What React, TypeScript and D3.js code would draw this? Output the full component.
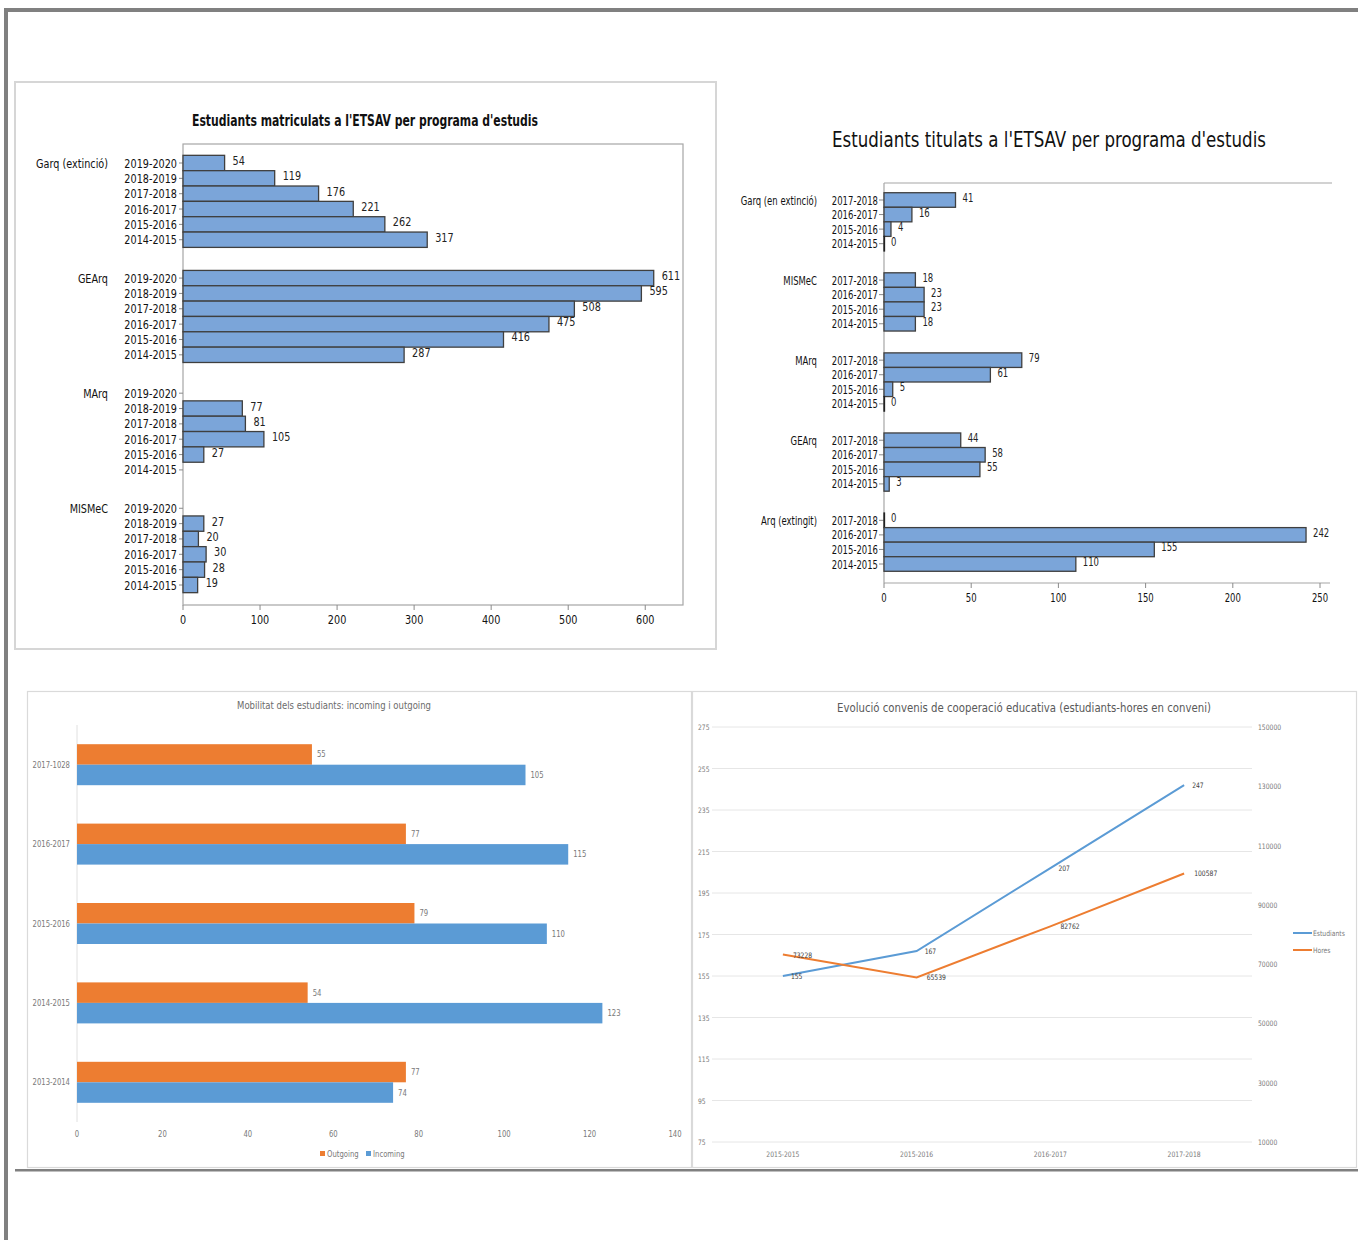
import React from "react";
import * as d3 from "d3";

// ---------- Chart 1 data: Estudiants matriculats ----------
const years1 = ["2019-2020", "2018-2019", "2017-2018", "2016-2017", "2015-2016", "2014-2015"];
const programs1 = ["Garq (extinció)", "GEArq", "MArq", "MISMeC"];
const garq1: (number | null)[] = [54, 119, 176, 221, 262, 317];
const gearq1: (number | null)[] = [611, 595, 508, 475, 416, 287];
const marq1: (number | null)[] = [null, 77, 81, 105, 27, null];
const mismec1: (number | null)[] = [null, 27, 20, 30, 28, 19];
const ticks1 = [0, 100, 200, 300, 400, 500, 600];

// ---------- Chart 2 data: Estudiants titulats ----------
const years2 = ["2017-2018", "2016-2017", "2015-2016", "2014-2015"];
const programs2 = ["Garq (en extinció)", "MISMeC", "MArq", "GEArq", "Arq (extingit)"];
const garq2 = [41, 16, 4, 0];
const mismec2 = [18, 23, 23, 18];
const marq2 = [79, 61, 5, 0];
const gearq2 = [44, 58, 55, 3];
const arq2 = [0, 242, 155, 110];
const ticks2 = [0, 50, 100, 150, 200, 250];

// ---------- Chart 3 data: Mobilitat ----------
const cats3 = ["2017-1028", "2016-2017", "2015-2016", "2014-2015", "2013-2014"];
const outgoing3 = [55, 77, 79, 54, 77];
const incoming3 = [105, 115, 110, 123, 74];
const ticks3 = [0, 20, 40, 60, 80, 100, 120, 140];

// ---------- Chart 4 data: Convenis ----------
const cats4 = ["2015-2015", "2015-2016", "2016-2017", "2017-2018"];
const estudiants4 = [155, 167, 207, 247];
const hores4 = [73228, 65539, 82762, 100587];
const ticksLeft4 = [75, 95, 115, 135, 155, 175, 195, 215, 235, 255, 275];
const ticksRight4 = [10000, 30000, 50000, 70000, 90000, 110000, 130000, 150000];

const NARROW = "'DejaVu Sans Condensed', 'Liberation Sans Narrow', 'DejaVu Sans', sans-serif";
const BAR_FILL = "#7ba5d9";
const BAR_STROKE = "#3f3f3f";
const ORANGE = "#ed7d31";
const BLUE = "#5b9bd5";

type NTProps = {
  x: number;
  y: number;
  size: number;
  sx?: number;
  anchor?: "start" | "middle" | "end";
  fill?: string;
  weight?: string | number;
  children: React.ReactNode;
};

function NText({ x, y, size, sx = 0.86, anchor = "start", fill = "#111", weight = "normal", children }: NTProps) {
  return (
    <text transform={`translate(${x},${y}) scale(${sx},1)`} textAnchor={anchor} fontSize={size} fill={fill} fontWeight={weight}>
      {children}
    </text>
  );
}

function Chart1() {
  const x = d3.scaleLinear().domain([0, 649]).range([183, 683]);
  const y = d3.scaleLinear().domain([0, 27.5]).range([163, 585]);
  const step = y(1) - y(0);
  const series = [garq1, gearq1, marq1, mismec1];
  const fs = 12.5;
  return (
    <g fontFamily={NARROW}>
      <rect x={15} y={82} width={701} height={567} fill="#fff" stroke="#d6d6d6" strokeWidth={2} />
      <text x={365} y={126} textAnchor="middle" fontSize={15} fontWeight="bold" fill="#111" textLength={346} lengthAdjust="spacingAndGlyphs">
        Estudiants matriculats a l'ETSAV per programa d'estudis
      </text>
      <rect x={183} y={144} width={500} height={461} fill="none" stroke="#a6a6a6" strokeWidth={1.2} />
      {series.map((vals, g) =>
        vals.map((v, r) => {
          const cy = y(g * 7.5 + r);
          return (
            <g key={`${g}-${r}`}>
              <line x1={179} x2={183} y1={cy} y2={cy} stroke="#8a8a8a" />
              <NText x={177} y={cy + 4.5} size={fs} anchor="end">{years1[r]}</NText>
              {v !== null && (
                <>
                  <rect x={x(0)} y={cy - step / 2} width={x(v) - x(0)} height={step} fill={BAR_FILL} stroke={BAR_STROKE} strokeWidth={1.3} />
                  <NText x={x(v) + 8} y={cy + 2} size={fs} fill="#222">{v}</NText>
                </>
              )}
            </g>
          );
        })
      )}
      {programs1.map((p, g) => (
        <NText key={p} x={108} y={y(g * 7.5) + 4.5} size={fs} anchor="end">{p}</NText>
      ))}
      {ticks1.map((t) => (
        <g key={t}>
          <line x1={x(t)} x2={x(t)} y1={605} y2={610} stroke="#8a8a8a" />
          <NText x={x(t)} y={624} size={fs} anchor="middle">{t}</NText>
        </g>
      ))}
    </g>
  );
}

function Chart2() {
  const x = d3.scaleLinear().domain([0, 250]).range([884, 1320]);
  const y = d3.scaleLinear().domain([0, 25]).range([200, 564]);
  const step = y(1) - y(0);
  const series = [garq2, mismec2, marq2, gearq2, arq2];
  const fs = 11.5;
  const sx = 0.82;
  return (
    <g fontFamily={NARROW}>
      <text x={1049} y={147} textAnchor="middle" fontSize={22} fill="#111" textLength={434} lengthAdjust="spacingAndGlyphs">
        Estudiants titulats a l'ETSAV per programa d'estudis
      </text>
      <line x1={884} x2={1332} y1={183} y2={183} stroke="#a6a6a6" strokeWidth={1.2} />
      <line x1={884} x2={884} y1={183} y2={583} stroke="#a6a6a6" strokeWidth={1.2} />
      <line x1={884} x2={1330} y1={583} y2={583} stroke="#a6a6a6" strokeWidth={1.2} />
      {series.map((vals, g) =>
        vals.map((v, r) => {
          const cy = y(g * 5.5 + r);
          return (
            <g key={`${g}-${r}`}>
              <line x1={879} x2={884} y1={cy} y2={cy} stroke="#8a8a8a" />
              <NText x={878} y={cy + 4.5} size={fs} sx={sx} anchor="end">{years2[r]}</NText>
              <rect x={x(0)} y={cy - step / 2} width={Math.max(x(v) - x(0), 0.5)} height={step} fill={BAR_FILL} stroke={v === 0 ? "#222" : BAR_STROKE} strokeWidth={1.3} />
              <NText x={x(v) + 7} y={cy + 2} size={fs} sx={sx} fill="#222">{v}</NText>
            </g>
          );
        })
      )}
      {programs2.map((p, g) => (
        <NText key={p} x={817} y={y(g * 5.5) + 4.5} size={fs} sx={sx} anchor="end">{p}</NText>
      ))}
      {ticks2.map((t) => (
        <g key={t}>
          <line x1={x(t)} x2={x(t)} y1={583} y2={588} stroke="#8a8a8a" />
          <NText x={x(t)} y={602} size={fs} sx={sx} anchor="middle">{t}</NText>
        </g>
      ))}
    </g>
  );
}

function Chart3() {
  const x = d3.scaleLinear().domain([0, 140]).range([77, 675]);
  const y = d3.scaleBand<string>().domain(cats3).range([725, 1122]);
  const bh = 20.5;
  return (
    <g fontFamily={NARROW}>
      <rect x={27.5} y={691.5} width={664} height={476} fill="#fff" stroke="#dadada" strokeWidth={1.2} />
      <NText x={334} y={709} size={10.5} sx={0.9} anchor="middle" fill="#6b6b6b">Mobilitat dels estudiants: incoming i outgoing</NText>
      <line x1={x(0)} x2={x(0)} y1={725} y2={1122} stroke="#e0e0e0" />
      {cats3.map((c, i) => {
        const cy = (y(c) as number) + y.bandwidth() / 2;
        return (
          <g key={c}>
            <NText x={70} y={cy + 3} size={8.5} sx={0.9} anchor="end" fill="#7a7a7a">{c}</NText>
            <rect x={x(0)} y={cy - bh} width={x(outgoing3[i]) - x(0)} height={bh} fill={ORANGE} />
            <rect x={x(0)} y={cy} width={x(incoming3[i]) - x(0)} height={bh} fill={BLUE} />
            <NText x={x(outgoing3[i]) + 5} y={cy - bh / 2 + 3} size={8.5} sx={0.9} fill="#7a7a7a">{outgoing3[i]}</NText>
            <NText x={x(incoming3[i]) + 5} y={cy + bh / 2 + 3} size={8.5} sx={0.9} fill="#7a7a7a">{incoming3[i]}</NText>
          </g>
        );
      })}
      {ticks3.map((t) => (
        <NText key={t} x={x(t)} y={1137} size={8.5} sx={0.9} anchor="middle" fill="#7a7a7a">{t}</NText>
      ))}
      <rect x={320} y={1151} width={5} height={5} fill={ORANGE} />
      <NText x={327} y={1157} size={8.5} sx={0.9} fill="#7a7a7a">Outgoing</NText>
      <rect x={366} y={1151} width={5} height={5} fill={BLUE} />
      <NText x={373} y={1157} size={8.5} sx={0.9} fill="#7a7a7a">Incoming</NText>
    </g>
  );
}

function Chart4() {
  const x = d3.scalePoint<string>().domain(cats4).range([716, 1251]).padding(0.5);
  const yL = d3.scaleLinear().domain([75, 275]).range([1142, 727]);
  const yR = d3.scaleLinear().domain([10000, 150000]).range([1142, 727]);
  const lineL = d3.line<number>().x((_, i) => x(cats4[i]) as number).y((d) => yL(d));
  const lineR = d3.line<number>().x((_, i) => x(cats4[i]) as number).y((d) => yR(d));
  return (
    <g fontFamily={NARROW}>
      <rect x={692.5} y={691.5} width={664} height={476} fill="#fff" stroke="#dadada" strokeWidth={1.2} />
      <text x={1024} y={712} textAnchor="middle" fontSize={12.5} fill="#595959" textLength={374} lengthAdjust="spacingAndGlyphs">
        Evolució convenis de cooperació educativa (estudiants-hores en conveni)
      </text>
      {ticksLeft4.map((t) => (
        <g key={t}>
          <line x1={712} x2={1252} y1={yL(t)} y2={yL(t)} stroke="#e6e6e6" />
          <NText x={698} y={yL(t) + 3} size={7.5} sx={0.9} fill="#7a7a7a">{t}</NText>
        </g>
      ))}
      {ticksRight4.map((t) => (
        <NText key={t} x={1258} y={yR(t) + 3} size={7.5} sx={0.9} fill="#7a7a7a">{t}</NText>
      ))}
      {cats4.map((c) => (
        <NText key={c} x={x(c) as number} y={1157} size={7.5} sx={0.9} anchor="middle" fill="#7a7a7a">{c}</NText>
      ))}
      <path d={lineL(estudiants4) || ""} fill="none" stroke={BLUE} strokeWidth={2} />
      <path d={lineR(hores4) || ""} fill="none" stroke={ORANGE} strokeWidth={2} />
      {estudiants4.map((v, i) => (
        <NText key={`e${i}`} x={(x(cats4[i]) as number) + 8} y={yL(v) + 3} size={7.5} sx={0.9} fill="#404040">{v}</NText>
      ))}
      {hores4.map((v, i) => (
        <NText key={`h${i}`} x={(x(cats4[i]) as number) + 10} y={yR(v) + 3} size={7.5} sx={0.9} fill="#404040">{v}</NText>
      ))}
      <line x1={1293} x2={1312} y1={933} y2={933} stroke={BLUE} strokeWidth={2} />
      <NText x={1313} y={936} size={7.5} sx={0.9} fill="#7a7a7a">Estudiants</NText>
      <line x1={1293} x2={1312} y1={950} y2={950} stroke={ORANGE} strokeWidth={2} />
      <NText x={1313} y={953} size={7.5} sx={0.9} fill="#7a7a7a">Hores</NText>
    </g>
  );
}

export default function App() {
  return (
    <div style={{ position: "absolute", left: 0, top: 0 }}>
      <svg width={1358} height={1240} viewBox="0 0 1358 1240" style={{ display: "block", background: "#fff" }}>
        <rect x={0} y={0} width={1358} height={1240} fill="#fff" />
        {/* outer frame */}
        <rect x={4} y={8} width={1354} height={4} fill="#808080" />
        <rect x={4} y={8} width={4} height={1232} fill="#808080" />
        <rect x={15} y={1169} width={1343} height={2.5} fill="#808080" />
        <Chart1 />
        <Chart2 />
        <Chart3 />
        <Chart4 />
      </svg>
    </div>
  );
}
